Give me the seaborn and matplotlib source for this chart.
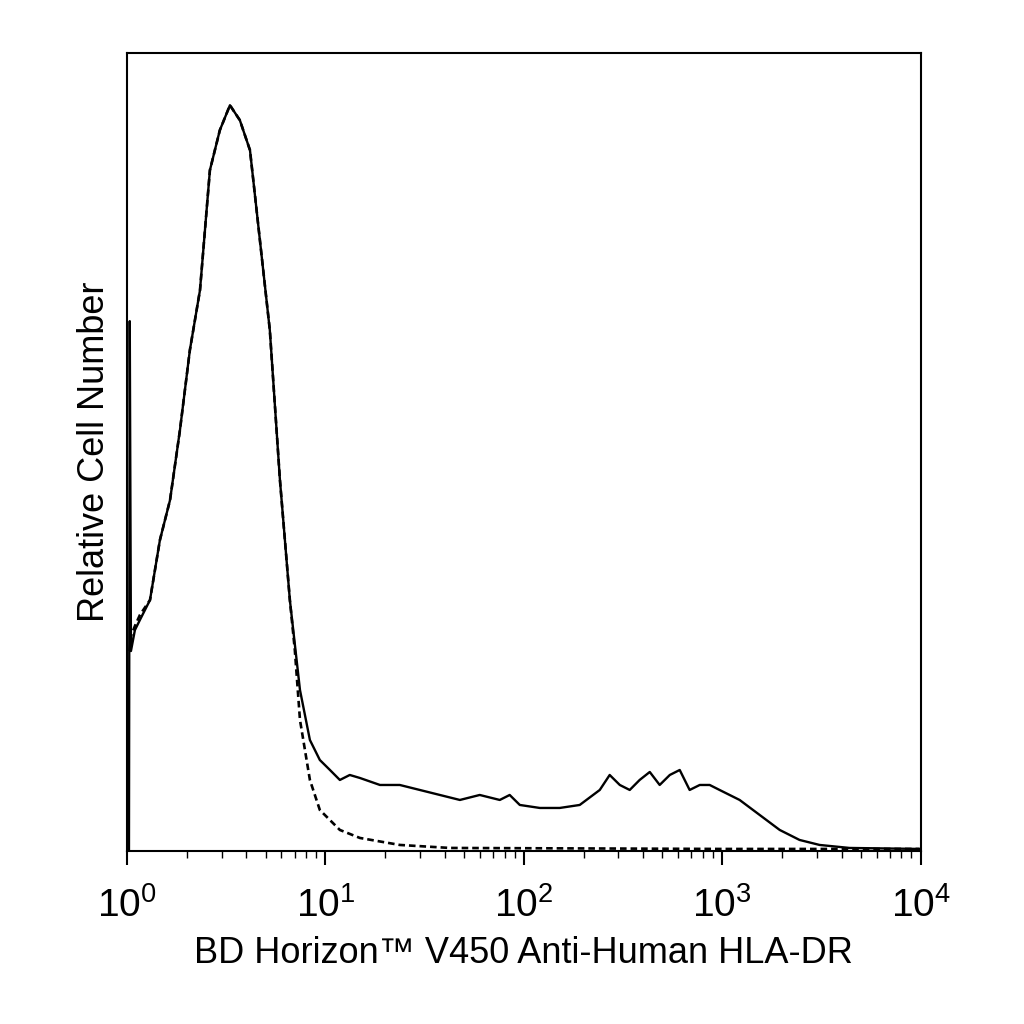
import numpy as np
import pandas as pd
import matplotlib
matplotlib.use("Agg")
import matplotlib.pyplot as plt
import seaborn as sns

sns.set_style("white")
plt.rcParams['font.family'] = ['Liberation Sans', 'DejaVu Sans']
plt.rcParams['text.color'] = 'black'
plt.rcParams['axes.labelcolor'] = 'black'
plt.rcParams['xtick.color'] = 'black'

# log10 fluorescence and relative counts (solid = stained)
stained_log = [0.010, 0.014, 0.020, 0.04, 0.065, 0.116, 0.166, 0.217, 0.267, 0.317, 0.368, 0.418, 0.468, 0.519,
               0.569, 0.620, 0.670, 0.720, 0.771, 0.821, 0.872, 0.922, 0.972, 1.023, 1.073, 1.123, 1.174,
               1.275, 1.375, 1.476, 1.577, 1.678, 1.778, 1.879, 1.929, 1.980, 2.081, 2.181, 2.282, 2.383,
               2.433, 2.484, 2.534, 2.584, 2.635, 2.685, 2.736, 2.786, 2.836, 2.887, 2.937, 2.987, 3.088,
               3.189, 3.290, 3.390, 3.491, 3.642, 3.995]
stained_cnt = [0, 530, 200, 221, 231, 251, 311, 351, 421, 501, 561, 681, 721, 746, 731, 701, 611, 521, 371,
               251, 161, 111, 91, 81, 71, 76, 73, 66, 66, 61, 56, 51, 56, 51, 56, 46, 43, 43, 46, 61, 76,
               66, 61, 71, 79, 66, 76, 81, 61, 66, 66, 61, 51, 36, 21, 11, 6, 3, 2]
control_log = [0.014, 0.02, 0.04, 0.065, 0.116, 0.166, 0.217, 0.267, 0.317, 0.368, 0.418, 0.468, 0.519,
               0.569, 0.620, 0.670, 0.720, 0.771, 0.821, 0.846, 0.872, 0.922, 0.972, 1.073, 1.174, 1.375,
               1.627, 3.0, 3.995]
control_cnt = [200, 215, 225, 236, 251, 311, 351, 421, 501, 561, 681, 721, 746, 731, 701, 611, 521, 371,
               251, 201, 131, 71, 41, 21, 13, 6, 3, 2, 2]

fig = plt.figure(figsize=(10.24, 10.24), dpi=100)
ax = fig.add_axes([0.124, 0.169, 0.775, 0.779])
s = pd.DataFrame({"x": 10 ** np.array(stained_log), "y": stained_cnt})
c = pd.DataFrame({"x": 10 ** np.array(control_log), "y": control_cnt})
sns.lineplot(data=s, x="x", y="y", ax=ax, color="black", lw=1.7, sort=False)
sns.lineplot(data=c, x="x", y="y", ax=ax, color="black", lw=1.9, ls=(0, (2.5, 1.5)), sort=False)
ax.set_xscale("log")
ax.set_xlim(1, 1e4)
ax.set_ylim(0, 798)
ax.set_yticks([])
ax.set_xticks([1, 10, 100, 1000, 10000])
ax.set_xticklabels([r"$\mathregular{10^{0}}$", r"$\mathregular{10^{1}}$", r"$\mathregular{10^{2}}$",
                    r"$\mathregular{10^{3}}$", r"$\mathregular{10^{4}}$"], fontsize=28)
ax.tick_params(axis="x", which="major", direction="out", length=10, width=1.5, bottom=True, pad=16)
ax.tick_params(axis="x", which="minor", direction="out", length=5, width=1, bottom=True)
for sp in ax.spines.values():
    sp.set_color("black"); sp.set_linewidth(1.5)
ax.set_xlabel("BD Horizon\u2122 V450 Anti-Human HLA-DR", fontsize=26, labelpad=8)
ax.set_ylabel("Relative Cell Number", fontsize=26, labelpad=11)
fig.savefig("out.png", dpi=100)
